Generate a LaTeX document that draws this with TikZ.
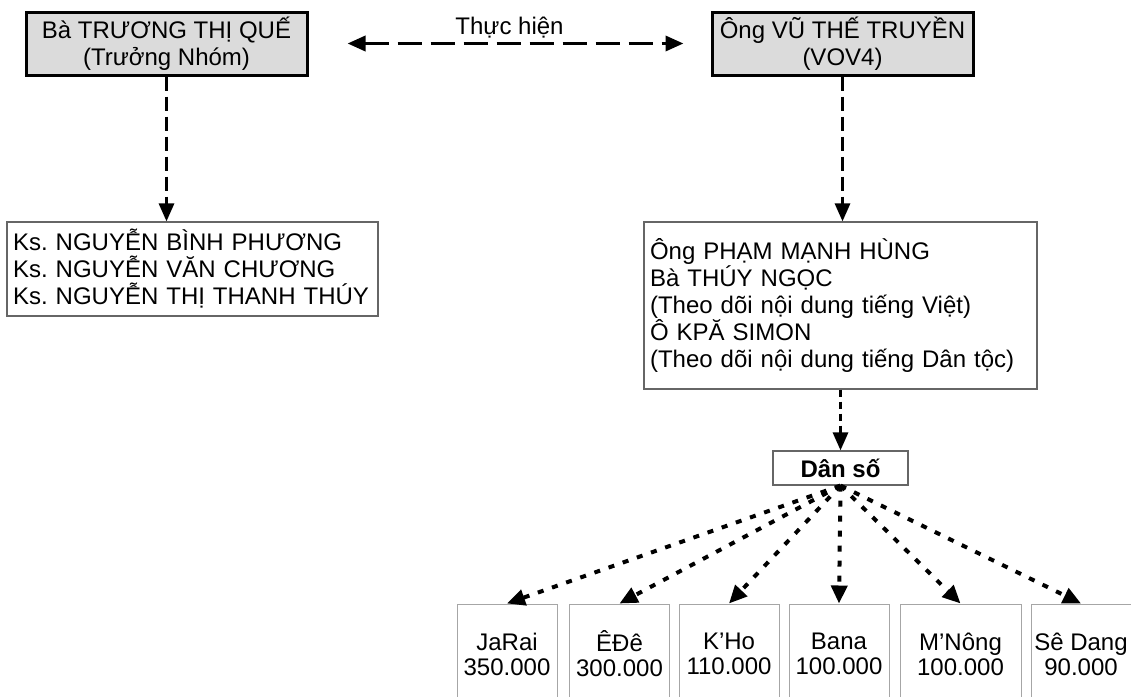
\documentclass[tikz,border=0pt]{standalone}
\usepackage{fontspec}
\setmainfont{Liberation Sans}
\frenchspacing
\usetikzlibrary{arrows.meta}

\tikzset{
  headbox/.style={draw=black, line width=3pt, fill=black!14, align=center,
    minimum height=63pt, inner sep=0pt},
  membox/.style={draw=black!60, line width=1.2pt, align=left,
    inner xsep=6pt, inner ysep=4pt},
  groupbox/.style={draw=black!35, line width=1pt, align=center,
    minimum height=100pt, inner sep=2pt, font=\fontsize{24}{25}\selectfont},
  linkarrow/.style={line width=3pt, -{Triangle[length=18pt,width=15pt]}},
  dotarrow/.style={line width=4pt, dash pattern=on 6pt off 9pt,
    -{Triangle[length=18pt,width=16pt]}}
}

\begin{document}
\begin{tikzpicture}[x=1pt, y=-1pt, font=\fontsize{24}{27}\selectfont]
  \useasboundingbox (0,0) rectangle (1131,696);
  \clip (0,0) rectangle (1131,696);

  %% top boxes
  \node[headbox, minimum width=281pt] (truong) at (166.5,43.5)
       {Bà TRƯƠNG THỊ QUẾ\\(Trưởng Nhóm)};
  \node[headbox, minimum width=261pt] (vov) at (842.5,43.5)
       {Ông VŨ THẾ TRUYỀN\\(VOV4)};

  %% members
  \node[membox, text width=359pt, minimum height=94pt] (kysu) at (192.5,269)
       {Ks. NGUYỄN BÌNH PHƯƠNG\\Ks. NGUYỄN VĂN CHƯƠNG\\Ks. NGUYỄN THỊ THANH THÚY};
  \node[membox, text width=381pt, minimum height=167pt] (theodoi) at (840.5,305.5)
       {Ông PHẠM MẠNH HÙNG\\Bà THÚY NGỌC\\(Theo dõi nội dung tiếng Việt)\\Ô KPĂ SIMON\\(Theo dõi nội dung tiếng Dân tộc)};
  \node[draw=black!60, line width=1.2pt, minimum width=135pt, minimum height=34pt,
        font=\fontsize{24}{27}\selectfont\bfseries] (danso) at (840.5,468) {Dân số};

  %% links
  \draw[line width=3.5pt, dash pattern=on 24pt off 9pt,
        {Triangle[length=18pt,width=15pt]}-{Triangle[length=18pt,width=15pt]},
        shorten <=39pt, shorten >=27pt]
       (truong.east) -- node[above=0pt] {Thực hiện} (vov.west);
  \draw[linkarrow, dash pattern=on 14pt off 6pt] (truong.south) -- (truong.south |- kysu.north);
  \draw[linkarrow, dash pattern=on 14pt off 6pt] (vov.south) -- (vov.south |- theodoi.north);
  \draw[linkarrow, dash pattern=on 7pt off 5pt] (danso.north |- theodoi.south) -- (danso.north);

  %% ethnic groups
  \foreach \cx/\w/\id/\name/\num in {507/100/jarai/JaRai/350.000,
      619.5/100/ede/ÊĐê/300.000, 729/100/kho/K’Ho/110.000,
      839/100/bana/Bana/100.000, 960.5/121/mnong/M’Nông/100.000,
      1081/100/sedang/Sê Dang/90.000} {
    \node[groupbox, minimum width=\w pt] (\id) at (\cx,654) {\name\\\num};
    \draw[dotarrow] (danso.south) -- (\id.north);
  }
\end{tikzpicture}
\end{document}
